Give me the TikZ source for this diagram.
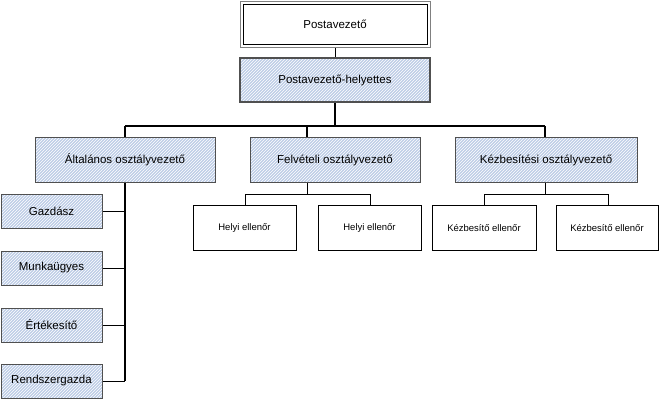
\documentclass[tikz,border=0pt]{standalone}
\usepackage{fontspec}
\setmainfont{Liberation Sans}
\usetikzlibrary{patterns}
\definecolor{hb}{RGB}{190,205,230}
\definecolor{bd}{RGB}{80,80,80}
\tikzset{
  x=1pt,y=-1pt,
  hatch/.style={draw=bd,line width=1pt,preaction={fill=hb},pattern=north east lines,pattern color=white},
  lnk/.style={draw=black,line width=1.3pt},
  lbl/.style={font=\fontsize{11.5}{13}\selectfont},
  slbl/.style={font=\fontsize{9.5}{11}\selectfont},
}
\begin{document}
\begin{tikzpicture}
\useasboundingbox (0,0) rectangle (660,407);
\def\bx#1#2#3#4#5#6#7{\path[#6] (#2,#3) rectangle (#4,#5); \node[#7] (#1) at ({(#2+#4)/2},{(#3+#5)/2}) {};}
% connectors first
\coordinate (a) at (335,46); \coordinate (b) at (335,58);
\draw[lnk,line width=1pt] (a)--(b);
\coordinate (h) at (335,102);
\coordinate (j) at (335,126);
\coordinate (l) at (125,126); \coordinate (r) at (545,126);
\draw[lnk] (h)--(j) (l)--(r);
\draw[lnk] (l)--(125,137) (307,126)--(307,137) (r)--(545,137);
\draw[lnk] (125,182)--(125,381);
\foreach \y in {211,268,325,381} \draw[lnk,line width=1pt] (102,\y)--(125,\y);
\draw[lnk,line width=1pt] (307,182)--(307,194) (245,205)--(245,194)--(370,194)--(370,205);
\draw[lnk,line width=1pt] (545,182)--(545,194) (484,205)--(484,194)--(608,194)--(608,205);
% top box
\draw[draw=gray,line width=1pt,fill=white] (240,1) rectangle (430,47);
\draw[black,line width=0.8pt] (243,4) rectangle (427,44);
\node[lbl] (pv) at (335,24) {Postavezető};
\draw[hatch,draw=bd,line width=2pt] (240,58) rectangle (430,102);
\node[lbl] (ph) at (335,80) {Postavezető-helyettes};
\draw[hatch] (35,137) rectangle (215,182);
\node[lbl] (ao) at (125,160) {Általános osztályvezető};
\draw[hatch] (250,137) rectangle (420,182);
\node[lbl] (fo) at (335,160) {Felvételi osztályvezető};
\draw[hatch] (455,137) rectangle (637,182);
\node[lbl] (ko) at (546,160) {Kézbesítési osztályvezető};
\foreach \n/\t/\a/\b in {g/Gazdász/194/228,m/Munkaügyes/251/285,e/Értékesítő/308/342,r2/Rendszergazda/364/398}{
  \draw[hatch] (1,\a) rectangle (102,\b);
  \node[lbl] (\n) at (51.5,{(\a+\b)/2}) {\t};
}
\foreach \n/\t/\a/\b in {h1/Helyi ellenőr/193/296,h2/Helyi ellenőr/318/421,k1/Kézbesítő ellenőr/432/536,k2/Kézbesítő ellenőr/556/658}{
  \draw[black,line width=0.8pt,fill=white] (\a,205) rectangle (\b,250);
  \node[slbl] (\n) at ({(\a+\b)/2},228) {\t};
}
\end{tikzpicture}
\end{document}
